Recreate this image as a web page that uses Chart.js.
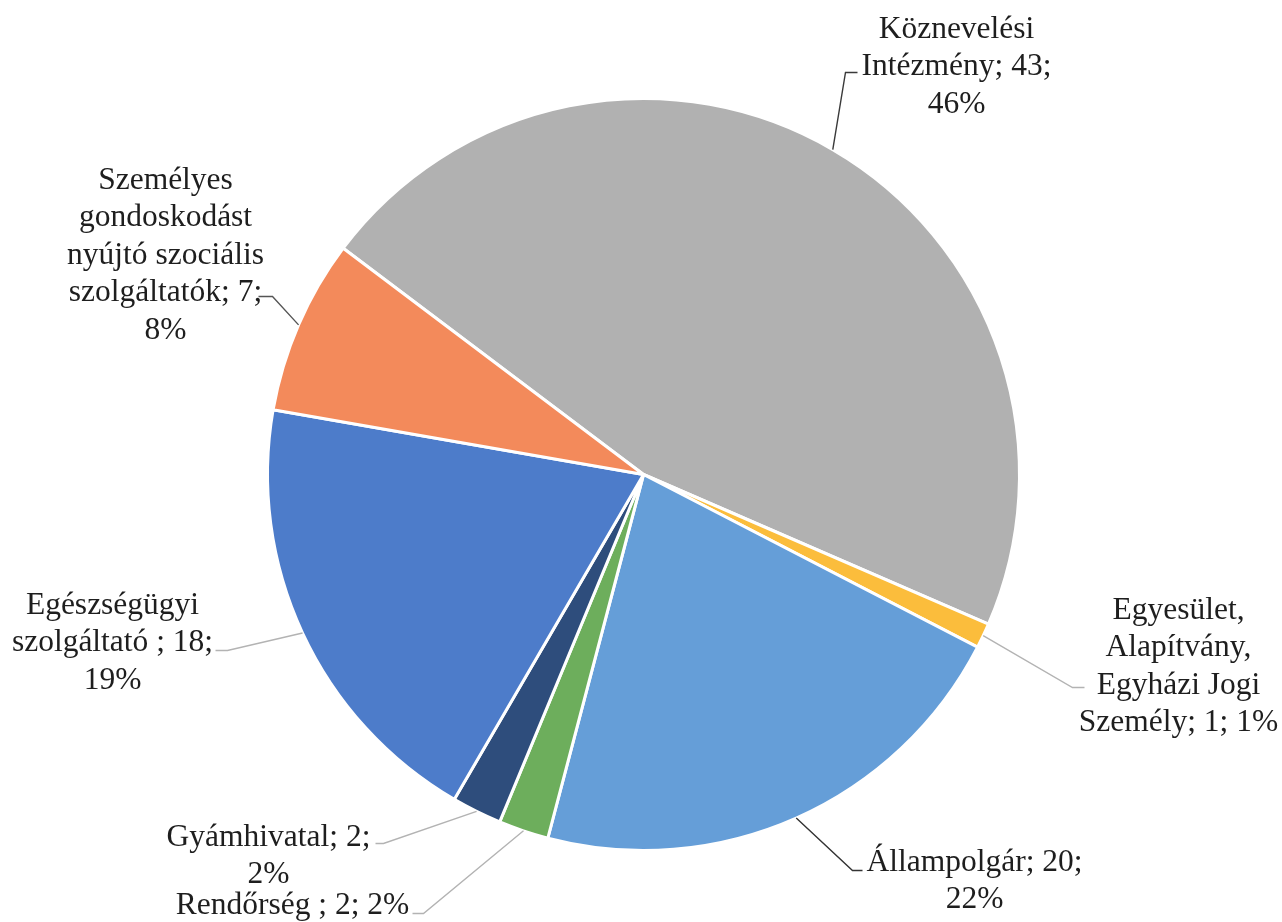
<!DOCTYPE html>
<html lang="hu">
<head>
<meta charset="utf-8">
<title>Pie</title>
<script src="https://cdn.jsdelivr.net/npm/chart.js"></script>
<style>
  html, body { margin: 0; padding: 0; background: #fff; }
  #wrap { width: 1282px; height: 922px; position: relative; }
</style>
</head>
<body>
<div id="wrap"><canvas id="pieChart"></canvas></div>
<script>
// Adatok
var categories = [
    'Köznevelési Intézmény',
    'Egyesület, Alapítvány, Egyházi Jogi Személy',
    'Állampolgár',
    'Rendőrség ',
    'Gyámhivatal',
    'Egészségügyi szolgáltató ',
    'Személyes gondoskodást nyújtó szociális szolgáltatók'
];
var values = [43, 1, 20, 2, 2, 18, 7];
var colors = ['#B1B1B1', '#FBBD3C', '#659ED8', '#6DAE5C', '#2E4D7C', '#4D7CCA', '#F38A5B'];

// Címkék elhelyezése (a kör középpontjához képest)
var labelLayout = [
    { tx: 313,  ty: -437, wrap: 225, elbow: [202, -402], end: [214, -402], line: '#3a3a3a' },
    { tx: 535,  ty: 144,  wrap: 212, elbow: [429, 213],  end: [441, 213],  line: '#b3b3b3' },
    { tx: 331,  ty: 396,  wrap: 228, elbow: [209, 396],  end: [219, 396],  line: '#333333' },
    { tx: -351, ty: 439,  wrap: 265, elbow: [-220, 439], end: [-231, 439], line: '#b3b3b3' },
    { tx: -375, ty: 371,  wrap: 220, elbow: [-260, 369], end: [-268, 369], line: '#b3b3b3' },
    { tx: -531, ty: 139,  wrap: 220, elbow: [-416, 176], end: [-428, 176], line: '#b3b3b3' },
    { tx: -478, ty: -286, wrap: 212, elbow: [-371, -178], end: [-385, -178], line: '#555555' }
];

var FONT = '31.5px "Liberation Serif", "Times New Roman", serif';
var LINE_H = 37.5;

function wrapText(ctx, text, maxWidth) {
    var words = text.split(' ');
    var lines = [];
    var cur = '';
    words.forEach(function(w) {
        var test = cur === '' ? w : cur + ' ' + w;
        if (cur !== '' && ctx.measureText(test).width > maxWidth) {
            lines.push(cur);
            cur = w;
        } else {
            cur = test;
        }
    });
    if (cur !== '') lines.push(cur);
    return lines;
}

var outsideLabels = {
    id: 'outsideLabels',
    afterDraw: function(chart) {
        var ctx = chart.ctx;
        var meta = chart.getDatasetMeta(0);
        var total = values.reduce(function(a, b) { return a + b; }, 0);
        ctx.save();
        ctx.font = FONT;
        meta.data.forEach(function(arc, i) {
            var p = arc.getProps(['x', 'y', 'startAngle', 'endAngle', 'outerRadius'], true);
            var mid = (p.startAngle + p.endAngle) / 2;
            var sx = p.x + Math.cos(mid) * p.outerRadius;
            var sy = p.y + Math.sin(mid) * p.outerRadius;
            var L = labelLayout[i];

            // vezető vonal
            ctx.strokeStyle = L.line;
            ctx.lineWidth = 1.4;
            ctx.beginPath();
            ctx.moveTo(sx, sy);
            ctx.lineTo(p.x + L.elbow[0], p.y + L.elbow[1]);
            ctx.lineTo(p.x + L.end[0], p.y + L.end[1]);
            ctx.stroke();

            // felirat
            var pct = Math.round(values[i] / total * 100);
            var text = categories[i] + '; ' + values[i] + '; ' + pct + '%';
            var lines = wrapText(ctx, text, L.wrap);
            ctx.fillStyle = '#1e1e1e';
            ctx.textAlign = 'center';
            ctx.textBaseline = 'alphabetic';
            lines.forEach(function(line, k) {
                ctx.fillText(line, p.x + L.tx, p.y + L.ty + k * LINE_H);
            });
        });
        ctx.restore();
    }
};

var ctx = document.getElementById('pieChart').getContext('2d');
var pieChart = new Chart(ctx, {
    type: 'pie',
    data: {
        labels: categories,
        datasets: [{
            data: values,
            backgroundColor: colors,
            borderColor: '#ffffff',
            borderWidth: 3
        }]
    },
    options: {
        responsive: true,
        maintainAspectRatio: false,
        animation: false,
        rotation: -53,
        layout: {
            padding: { left: 266, right: 261, top: 97, bottom: 70 }
        },
        plugins: {
            legend: { display: false },
            tooltip: { enabled: false }
        }
    },
    plugins: [outsideLabels]
});
</script>
</body>
</html>
